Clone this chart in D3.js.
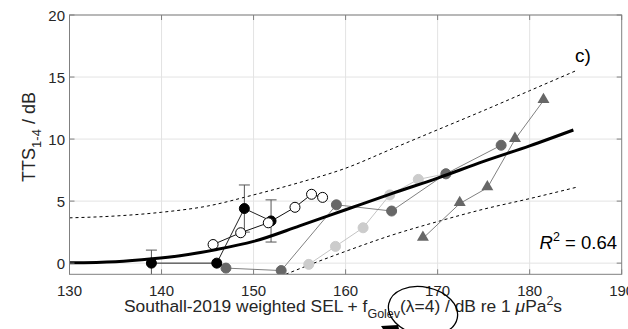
<!DOCTYPE html>
<html>
<head>
<meta charset="utf-8">
<script src="https://cdn.jsdelivr.net/npm/d3@7/dist/d3.min.js"></script>
<style>
  body { margin: 0; background: #fff; }
  text { font-family: Arial, "Liberation Sans", Helvetica, sans-serif; }
</style>
</head>
<body>
<svg id="chart" width="628" height="329"></svg>
<script>
// values
const xTicks = [130, 140, 150, 160, 170, 180, 190]
const yTicks = [0, 5, 10, 15, 20]

const blackX = [138.9, 146.0, 149.0, 151.9]
const blackY = [0, 0, 4.4, 3.4]
const blackErr = [1.05, 0, 1.9, 1.7]

const openX = [145.6, 148.6, 151.6, 154.5, 156.3, 157.5]
const openY = [1.5, 2.45, 3.25, 4.5, 5.55, 5.3]

const darkX = [147.0, 153.0, 159.0, 165.0, 170.9, 176.9]
const darkY = [-0.4, -0.6, 4.7, 4.2, 7.2, 9.5]

const lightX = [156.0, 158.9, 161.9, 164.8, 167.9, 170.9]
const lightY = [-0.1, 1.35, 2.85, 5.5, 6.75, 7.2]

const triX = [168.4, 172.4, 175.4, 178.4, 181.5]
const triY = [2.0, 4.8, 6.07, 9.97, 13.1]

// fitted curve and bounds
const fitX = [130, 135, 139, 142, 146, 150, 155, 160, 165, 170, 175, 180, 184.75]
const fitY = [0.03, 0.12, 0.35, 0.6, 1.1, 1.75, 3.0, 4.3, 5.6, 6.85, 8.2, 9.45, 10.73]
const upX = [130, 135, 140, 145, 150, 155, 160, 165, 170, 175, 180, 185]
const upY = [3.65, 3.8, 4.1, 4.6, 5.5, 6.5, 7.65, 9.2, 10.75, 12.3, 13.9, 15.5]
const loX = [153.5, 155, 160, 165, 170, 175, 180, 185]
const loY = [-0.9, -0.45, 0.95, 2.25, 3.35, 4.35, 5.2, 6.1]

const svg = d3.select('#chart')
const x = d3.scaleLinear().domain([130, 190]).range([69.5, 621.7])
const y = d3.scaleLinear().domain([-0.9, 20]).range([274.3, 15])
const zip = (a, b) => a.map((v, i) => [v, b[i]])

svg.append('defs').append('clipPath').attr('id', 'plotclip')
  .append('rect')
  .attr('x', x(130)).attr('y', y(20))
  .attr('width', x(190) - x(130)).attr('height', y(-0.9) - y(20))

// grid
const grid = svg.append('g').attr('stroke', '#e3e3e3').attr('stroke-width', 1)
grid.selectAll('.gx').data(xTicks.slice(1, -1)).join('line')
  .attr('x1', d => x(d)).attr('x2', d => x(d))
  .attr('y1', y(20)).attr('y2', y(-0.9))
grid.selectAll('.gy').data(yTicks).join('line')
  .attr('x1', x(130)).attr('x2', x(190))
  .attr('y1', d => y(d)).attr('y2', d => y(d))

const plot = svg.append('g').attr('clip-path', 'url(#plotclip)')
const line = d3.line().x(d => x(d[0])).y(d => y(d[1]))
const smooth = d3.line().x(d => x(d[0])).y(d => y(d[1])).curve(d3.curveMonotoneX)

// bounds
plot.append('path').datum(zip(upX, upY)).attr('d', smooth)
  .attr('fill', 'none').attr('stroke', '#000').attr('stroke-width', 1).attr('stroke-dasharray', '3,3')
plot.append('path').datum(zip(loX, loY)).attr('d', smooth)
  .attr('fill', 'none').attr('stroke', '#000').attr('stroke-width', 1).attr('stroke-dasharray', '3,3')

function circles (xs, ys, lineColor, fill, stroke) {
  const pts = zip(xs, ys)
  plot.append('path').datum(pts).attr('d', line)
    .attr('fill', 'none').attr('stroke', lineColor).attr('stroke-width', 1)
  plot.append('g').selectAll('circle').data(pts).join('circle')
    .attr('cx', d => x(d[0])).attr('cy', d => y(d[1])).attr('r', 5)
    .attr('fill', fill).attr('stroke', stroke).attr('stroke-width', 1)
}

circles(lightX, lightY, '#c4c4c4', '#cccccc', '#cccccc')
circles(darkX, darkY, '#808080', '#676767', '#676767')

// triangles
const triPts = zip(triX, triY)
plot.append('path').datum(triPts).attr('d', line)
  .attr('fill', 'none').attr('stroke', '#808080').attr('stroke-width', 1)
plot.append('g').selectAll('path').data(triPts).join('path')
  .attr('d', d3.symbol(d3.symbolTriangle, 62))
  .attr('transform', d => `translate(${x(d[0])},${y(d[1]) - 1})`)
  .attr('fill', '#676767')

// error bars of black series
const eb = plot.append('g').attr('stroke', '#555').attr('stroke-width', 1)
blackX.forEach((v, i) => {
  if (!blackErr[i]) return
  const cx = x(v), t = y(blackY[i] + blackErr[i]), b = y(blackY[i] - blackErr[i])
  eb.append('line').attr('x1', cx).attr('x2', cx).attr('y1', t).attr('y2', b)
  eb.append('line').attr('x1', cx - 5.5).attr('x2', cx + 5.5).attr('y1', t).attr('y2', t)
  eb.append('line').attr('x1', cx - 5.5).attr('x2', cx + 5.5).attr('y1', b).attr('y2', b)
})
circles(blackX, blackY, '#222', '#000', '#000')
circles(openX, openY, '#111', '#fff', '#000')

// fit
plot.append('path').datum(zip(fitX, fitY)).attr('d', smooth)
  .attr('fill', 'none').attr('stroke', '#000').attr('stroke-width', 3)

// axes box + ticks (inward)
const ax = svg.append('g').attr('stroke', '#808080').attr('stroke-width', 1)
ax.append('rect').attr('x', x(130)).attr('y', y(20))
  .attr('width', x(190) - x(130)).attr('height', y(-0.9) - y(20)).attr('fill', 'none')
xTicks.forEach(t => {
  ax.append('line').attr('x1', x(t)).attr('x2', x(t)).attr('y1', y(-0.9)).attr('y2', y(-0.9) - 5)
  ax.append('line').attr('x1', x(t)).attr('x2', x(t)).attr('y1', y(20)).attr('y2', y(20) + 5)
})
yTicks.forEach(t => {
  ax.append('line').attr('x1', x(130)).attr('x2', x(130) + 5).attr('y1', y(t)).attr('y2', y(t))
  ax.append('line').attr('x1', x(190)).attr('x2', x(190) - 5).attr('y1', y(t)).attr('y2', y(t))
})

svg.append('g').selectAll('text').data(xTicks).join('text')
  .attr('x', d => x(d)).attr('y', 295.5).attr('text-anchor', 'middle')
  .attr('font-size', 15).attr('fill', '#262626').text(d => d)
svg.append('g').selectAll('text').data(yTicks).join('text')
  .attr('x', 65).attr('y', d => y(d) + 5.5).attr('text-anchor', 'end')
  .attr('font-size', 15).attr('fill', '#262626').text(d => d)

// axis labels
const xl = svg.append('text').attr('x', 343).attr('y', 312).attr('text-anchor', 'middle')
  .attr('font-size', 17.4).attr('fill', '#262626')
xl.append('tspan').text('Southall-2019 weighted SEL + f')
xl.append('tspan').attr('font-size', 12.5).attr('dy', 6).text('Golev')
xl.append('tspan').attr('dy', -6).text('(λ=4) / dB re 1 ')
xl.append('tspan').attr('font-style', 'italic').text('μ')
xl.append('tspan').text('Pa')
xl.append('tspan').attr('font-size', 12.5).attr('dy', -7).text('2')
xl.append('tspan').attr('dy', 7).text('s')

const yl = svg.append('text').attr('transform', 'translate(35,137) rotate(-90)')
  .attr('text-anchor', 'middle').attr('font-size', 18).attr('fill', '#262626')
yl.append('tspan').text('TTS')
yl.append('tspan').attr('font-size', 13).attr('dy', 6).text('1-4')
yl.append('tspan').attr('dy', -6).text(' / dB')

// annotations
svg.append('text').attr('x', 575).attr('y', 62).attr('font-size', 19).attr('fill', '#000').text('c)')
const r2 = svg.append('text').attr('x', 617).attr('y', 248.5).attr('text-anchor', 'end')
  .attr('font-size', 18.5).attr('fill', '#000')
r2.append('tspan').attr('font-style', 'italic').text('R')
r2.append('tspan').attr('font-size', 12.5).attr('dy', -8).text('2')
r2.append('tspan').attr('dy', 8).text(' = 0.64')

svg.append('ellipse').attr('cx', 423).attr('cy', 311).attr('rx', 35).attr('ry', 24)
  .attr('transform', 'rotate(12,423,311)')
  .attr('fill', 'none').attr('stroke', '#000').attr('stroke-width', 1.3)
svg.append('path').attr('d', 'M381,326 L398,325 L399,329 L383,329 Z').attr('fill', '#000')
</script>
</body>
</html>
